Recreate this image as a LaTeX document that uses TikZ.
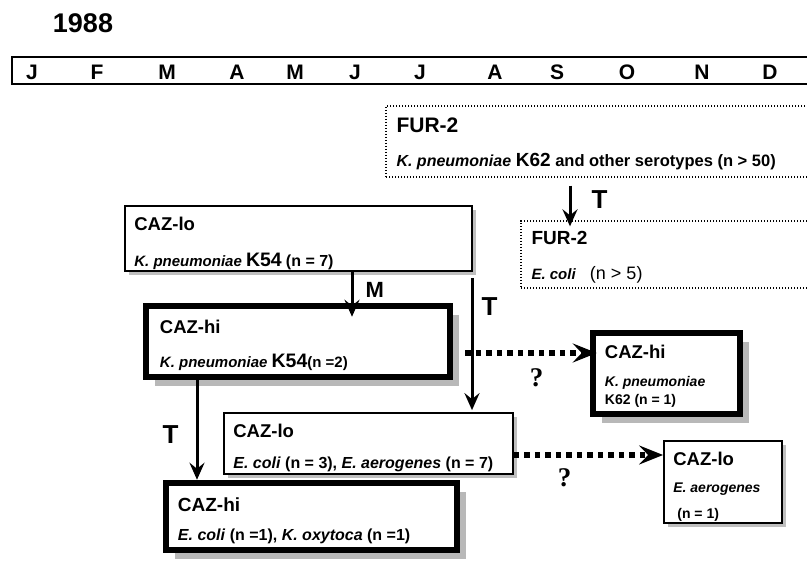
\documentclass[tikz,border=0pt]{standalone}
\usepackage{fontspec}
\setmainfont{Liberation Sans}
\newfontfamily\qmarkfont{Liberation Serif}
\usetikzlibrary{arrows.meta, shadows}
\newcommand{\taxon}[1]{\textit{#1}}
\newcommand{\fsz}[1]{\fontsize{#1}{#1}\selectfont}
\tikzset{
  every node/.style={text=black},
  arr/.style={-{Stealth[length=17pt,width=15pt,inset=6pt]}, line width=3pt},
  qarr/.style={-{Stealth[length=24pt,width=19pt,inset=9pt]}, line width=5.5pt,
               dash pattern=on 5.5pt off 5pt},
  lbl/.style={inner sep=0pt, font=\fsz{26}\bfseries},
  qlbl/.style={inner sep=0pt, font=\fsz{27}\qmarkfont\bfseries},
  month/.style={inner sep=0pt, font=\fsz{21}\bfseries},
  ttl/.style={anchor=base west, inner sep=0pt, font=\fsz{18.5}\bfseries},
  desc/.style={anchor=base west, inner sep=0pt, font=\fsz{15}\bfseries},
  furbox/.style={draw, line width=1.3pt, dash pattern=on 1.2pt off 1.8pt,
                 fill=white, inner sep=0pt},
  lobox/.style={draw, line width=1.7pt, fill=white, inner sep=0pt,
                drop shadow={shadow xshift=4pt, shadow yshift=-4pt,
                             fill=black!25, opacity=1}},
  hibox/.style={draw, line width=6.5pt, fill=white, inner sep=0pt,
                drop shadow={shadow xshift=9pt, shadow yshift=-9pt,
                             fill=black!28, opacity=1}}
}

\begin{document}
\begin{tikzpicture}[x=1pt,y=1pt]
\useasboundingbox (0,0) rectangle (807,581);

% Year and month bar
\node[inner sep=0pt, font=\fsz{27}\bfseries] (year) at (83,558) {1988};
\node[draw, line width=2pt, minimum width=818pt, minimum height=27pt,
      inner sep=0pt] (bar) at (421,510.5) {};
\foreach \m/\x in {J/32, F/97, M/167, A/237, M/295, J/355,
                   J/420, A/495, S/557, O/627, N/702, D/770}
  \node[month] (m\x) at (\x,508.5) {\m};

% FUR-2 boxes
\node[furbox, minimum width=444pt, minimum height=71pt] (furA) at (608,439.5) {};
\node[ttl, font=\fsz{21}\bfseries] (furAt) at ([shift={(11pt,-27pt)}]furA.north west) {FUR-2};
\node[desc, font=\fsz{16.5}\bfseries] (furAd) at ([shift={(11pt,-61pt)}]furA.north west)
  {{\fsz{16}\taxon{K. pneumoniae}} {\fsz{19}K62} and other serotypes (n > 50)};

\node[furbox, minimum width=309pt, minimum height=67pt] (furB) at (675.5,326.5) {};
\node[ttl, font=\fsz{19}\bfseries] (furBt) at ([shift={(11pt,-24pt)}]furB.north west) {FUR-2};
\node[desc, font=\fsz{15}\bfseries] (furBd) at ([shift={(11pt,-59pt)}]furB.north west)
  {\taxon{E. coli}\hspace{14pt}{\fsz{18}\mdseries (n > 5)}};

% CAZ boxes
\node[lobox, minimum width=347pt, minimum height=65pt] (cazloA) at (298.5,342.5) {};
\node[ttl] (cazloAt) at ([shift={(10pt,-25pt)}]cazloA.north west) {CAZ-lo};
\node[desc] (cazloAd) at ([shift={(10pt,-61pt)}]cazloA.north west)
  {\taxon{K. pneumoniae} {\fsz{19.5}K54} {\fsz{16}(n = 7)}};

\node[hibox, minimum width=304pt, minimum height=71pt] (cazhiA) at (298,239.5) {};
\node[ttl] (cazhiAt) at ([shift={(17pt,-31pt)}]cazhiA.north west) {CAZ-hi};
\node[desc] (cazhiAd) at ([shift={(17pt,-65pt)}]cazhiA.north west)
  {\taxon{K. pneumoniae} {\fsz{19.5}K54}(n =2)};

\node[lobox, minimum width=289pt, minimum height=61pt] (cazloB) at (368.5,137.5) {};
\node[ttl] (cazloBt) at ([shift={(10pt,-25pt)}]cazloB.north west) {CAZ-lo};
\node[desc, font=\fsz{16}\bfseries] (cazloBd) at ([shift={(10pt,-56pt)}]cazloB.north west)
  {\taxon{E. coli} (n = 3), \taxon{E. aerogenes} (n = 7)};

\node[hibox, minimum width=291pt, minimum height=67pt] (cazhiB) at (311.5,64.5) {};
\node[ttl, font=\fsz{19}\bfseries] (cazhiBt) at ([shift={(15pt,-32pt)}]cazhiB.north west) {CAZ-hi};
\node[desc, font=\fsz{16}\bfseries] (cazhiBd) at ([shift={(15pt,-61pt)}]cazhiB.north west)
  {\taxon{E. coli} (n =1), \taxon{K. oxytoca} (n =1)};

\node[hibox, minimum width=147pt, minimum height=81pt] (cazhiC) at (666.5,207.5) {};
\node[ttl] (cazhiCt) at ([shift={(15pt,-29pt)}]cazhiC.north west) {CAZ-hi};
\node[desc, font=\fsz{14}\bfseries] (cazhiCd) at ([shift={(15pt,-57pt)}]cazhiC.north west)
  {\taxon{K. pneumoniae}};
\node[desc, font=\fsz{14}\bfseries] (cazhiCn) at ([shift={(15pt,-75pt)}]cazhiC.north west)
  {K62 (n = 1)};

\node[lobox, minimum width=118pt, minimum height=82pt] (cazloC) at (723,99) {};
\node[ttl] (cazloCt) at ([shift={(10pt,-25pt)}]cazloC.north west) {CAZ-lo};
\node[desc, font=\fsz{14}\bfseries] (cazloCd) at ([shift={(10pt,-52pt)}]cazloC.north west)
  {\taxon{E. aerogenes}};
\node[desc, font=\fsz{14}\bfseries] (cazloCn) at ([shift={(14pt,-78pt)}]cazloC.north west)
  {(n = 1)};

% Connector columns and rows
\coordinate (xFurT) at (570,0);
\coordinate (xM) at (352,0);
\coordinate (xTR) at (472,0);
\coordinate (xTL) at (197,0);
\coordinate (yQa) at (0,228);
\coordinate (yQb) at (0,126);

% Transfers and mutation
\draw[arr, shorten <=8pt, shorten >=-6pt] (furA.south -| xFurT) --
  node[lbl, right=20pt, pos=0.52] (tFur) {T} (furB.north -| xFurT);
\draw[arr, shorten >=-14pt] (cazloA.south -| xM) --
  node[lbl, right=12pt, pos=0.6, font=\fsz{22}\bfseries] (mLbl) {M} (cazhiA.north -| xM);
\draw[arr, shorten <=6pt, shorten >=2pt] (cazloA.south -| xTR) --
  node[lbl, right=8pt, pos=0.25] (tRight) {T} (cazloB.north -| xTR);
\draw[arr] (cazhiA.south -| xTL) --
  node[lbl, left=17pt, pos=0.55] (tLeft) {T} (cazhiB.north -| xTL);

% Uncertain links
\draw[qarr, shorten <=12pt, shorten >=-7pt] (cazhiA.east |- yQa) --
  node[qlbl, below=13pt, pos=0.61] (qA) {?} (cazhiC.west |- yQa);
\draw[qarr] (cazloB.east |- yQb) --
  node[qlbl, below=11pt, pos=0.34] (qB) {?} (cazloC.west |- yQb);

\end{tikzpicture}
\end{document}
